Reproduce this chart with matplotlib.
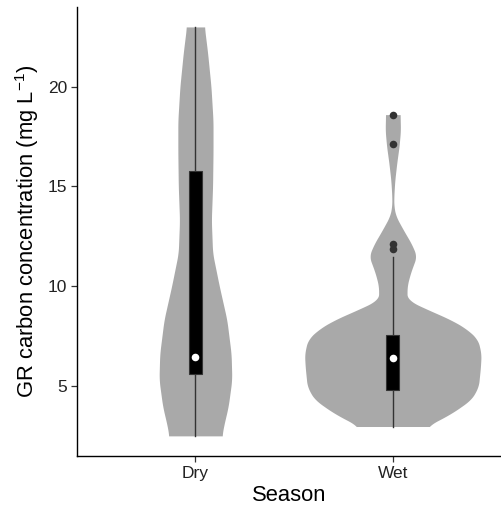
import numpy as np
import matplotlib
matplotlib.use("Agg")
import matplotlib.pyplot as plt

plt.rcParams['font.family'] = ['Liberation Sans', 'DejaVu Sans']
plt.rcParams['mathtext.default'] = 'regular'

# ---- data ----
categories = ["Dry", "Wet"]

# violin density profiles (relative density, max of all = 1)
dry_y = [2.48, 2.95, 3.95, 5.3, 6.6, 8.3, 10.0, 11.65, 13.3, 15.0, 16.7, 18.3, 20.0, 21.7, 23.0]
dry_dens = [0.298, 0.316, 0.369, 0.410, 0.402, 0.354, 0.268, 0.193, 0.179, 0.193, 0.198, 0.198, 0.175, 0.137, 0.101]

wet_y = [2.95, 3.6, 4.3, 4.95, 5.96, 6.6, 7.3, 7.8, 8.3, 8.8, 9.3, 10.0, 10.65, 11.5,
         12.1, 12.8, 13.5, 14.0, 14.5, 15.3, 16.2, 17.0, 17.8, 18.6]
wet_dens = [0.380, 0.659, 0.883, 0.964, 0.987, 0.994, 0.958, 0.846, 0.659, 0.399, 0.160, 0.160,
            0.198, 0.268, 0.212, 0.120, 0.034, 0.011, 0.011, 0.022, 0.045, 0.070, 0.086, 0.082]

# box plot statistics
box_lower = [5.59, 4.79]
box_upper = [15.78, 7.55]
medians = [6.46, 6.41]
whisker_low = [2.48, 2.95]
whisker_high = [23.0, 11.45]
wet_outliers = [11.85, 12.1, 17.13, 18.6]

profiles_y = [dry_y, wet_y]
profiles_d = [dry_dens, wet_dens]

# ---- plot ----
fig = plt.figure(figsize=(5.01, 5.08), dpi=100)
ax = fig.add_axes([77 / 501, 52 / 508, 1 - 77 / 501, (456 - 7) / 508])

violin_width = 0.45
for i, (yy, dd) in enumerate(zip(profiles_y, profiles_d)):
    pos = i + 1
    fine = np.linspace(yy[0], yy[-1], 400)
    d = np.interp(fine, yy, dd)
    k = np.ones(15) / 15
    pad = np.pad(d, 7, mode='edge')
    d = np.convolve(pad, k, mode='valid')
    hw = d * violin_width
    ax.fill_betweenx(fine, pos - hw, pos + hw, color='#A9A9A9', lw=0, zorder=1)

bw = 0.065
for i in range(2):
    pos = i + 1
    ax.plot([pos, pos], [whisker_low[i], box_lower[i]], color='#333333', lw=1.0, zorder=2)
    ax.plot([pos, pos], [box_upper[i], whisker_high[i]], color='#333333', lw=1.0, zorder=2)
    ax.add_patch(plt.Rectangle((pos - bw / 2, box_lower[i]), bw, box_upper[i] - box_lower[i],
                               facecolor='black', edgecolor='#333333', lw=0.8, zorder=3))
    ax.scatter([pos], [medians[i]], s=30, color='white', zorder=4, lw=0)

ax.scatter([2] * len(wet_outliers), wet_outliers, s=30, color='#333333', zorder=4, lw=0)

ax.set_xlim(0.4, 2.548)
ax.set_ylim(1.47, 24.0)
ax.set_xticks([1, 2])
ax.set_xticklabels(categories)
ax.set_yticks([5, 10, 15, 20])
ax.spines['top'].set_visible(False)
ax.spines['right'].set_visible(False)
for s in ['left', 'bottom']:
    ax.spines[s].set_linewidth(1.0)
    ax.spines[s].set_color('black')
ax.tick_params(axis='both', length=4, width=0.9, color='#333333', labelsize=12.5,
               labelcolor='#222222', pad=3)
ax.set_xlabel('Season', fontsize=15.8, labelpad=3)
ax.set_ylabel('GR carbon concentration (mg L$^{-1}$)', fontsize=15.8, labelpad=5)

fig.savefig('out.png', dpi=100)
